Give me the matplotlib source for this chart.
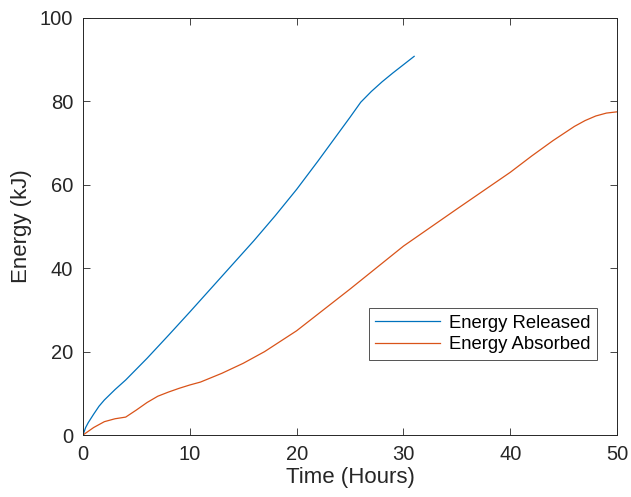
import matplotlib
matplotlib.use('Agg')
import numpy as np
import matplotlib.pyplot as plt

plt.rcParams['font.family'] = ['Liberation Sans', 'DejaVu Sans']

t_rel = [0, 0.25, 0.5, 1, 1.5, 2, 3, 4, 6, 8, 10, 12, 14, 16, 18, 20, 22, 24, 25, 26,
         27, 28, 29, 30, 31]
e_rel = [0, 1.8, 3, 5, 6.9, 8.4, 10.9, 13.2, 18.4, 23.9, 29.5, 35.2, 40.9, 46.6, 52.6, 58.9,
         65.7, 72.7, 76.2, 79.8, 82.4, 84.7, 86.8, 88.8, 90.8]

t_abs = [0, 1, 2, 3, 4, 5, 6, 7, 8, 9, 10, 11, 13, 15, 17, 20, 25, 30, 35, 40, 42, 44,
         45, 46, 47, 48, 49, 50]
e_abs = [0, 1.8, 3.2, 3.9, 4.3, 6.0, 7.8, 9.3, 10.3, 11.2, 12.0, 12.7, 14.8, 17.2, 20.0,
         25.0, 35.0, 45.3, 54.2, 63.0, 66.9, 70.6, 72.3, 74.0, 75.4, 76.5, 77.2, 77.5]

BLUE, ORANGE = '#0072BD', '#D95319'
AX_C = '#262626'

fig = plt.figure(figsize=(6.31, 4.97), dpi=100)
ax = fig.add_axes([0.1315, 0.1247, 0.8465, 0.8391])

ax.plot(t_rel, e_rel, color=BLUE, lw=0.9, label='Energy Released')
ax.plot(t_abs, e_abs, color=ORANGE, lw=0.9, label='Energy Absorbed')

ax.set_xlim(0, 50)
ax.set_ylim(0, 100)
ax.set_xticks([0, 10, 20, 30, 40, 50])
ax.set_yticks([0, 20, 40, 60, 80, 100])
ax.tick_params(direction='in', top=True, right=True, length=5, width=0.6,
               labelsize=14.5, colors=AX_C, pad=7)
for s in ax.spines.values():
    s.set_color(AX_C)
    s.set_linewidth(0.7)

ax.set_xlabel('Time (Hours)', fontsize=16, color=AX_C, labelpad=2)
ax.set_ylabel('Energy (kJ)', fontsize=16, color=AX_C, labelpad=6)

leg = ax.legend(loc='lower right', bbox_to_anchor=(0.9625, 0.18), borderaxespad=0,
                fontsize=13.3, frameon=True, fancybox=False, handlelength=3.5,
                handletextpad=0.5, borderpad=0.35, labelspacing=0.25)
leg.get_frame().set_edgecolor(AX_C)
leg.get_frame().set_linewidth(0.7)

fig.savefig('out.png', dpi=100)
